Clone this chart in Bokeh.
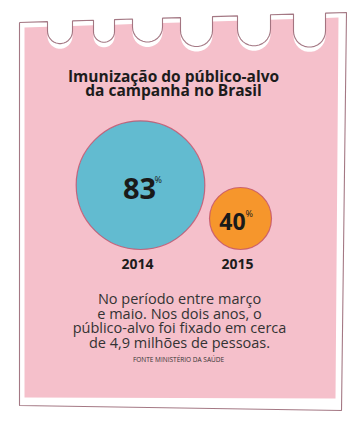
import numpy as np
from bokeh.plotting import figure
from bokeh.models import Range1d
from bokeh.core.properties import value
from bokeh.embed import file_html
from bokeh.resources import INLINE

# ---- data ----
years = ["2014", "2015"]
values = [83, 40]
value_labels = ["83", "40"]
title_lines = ["Imunização do público-alvo", "da campanha no Brasil"]
note_lines = ["No período entre março", "e maio. Nos dois anos, o",
              "público-alvo foi fixado em cerca", "de 4,9 milhões de pessoas."]
source = "FONTE MINISTÉRIO DA SAÚDE"

# ---- layout ----
W, H = 352, 414
p = figure(width=W, height=H, output_backend="svg", toolbar_location=None,
           x_range=Range1d(0, W), y_range=Range1d(H, 0),
           min_border=0)
p.axis.visible = False
p.grid.visible = False
p.outline_line_color = None
p.background_fill_color = "white"
p.border_fill_color = "white"

# paper shape
def top_edge(xl, xr, yl, yr, scallops, dy=0.0):
    def yt(x):
        return yl + (yr - yl) * (x - xl) / (xr - xl) + dy
    xs, ys = [xl], [yt(xl)]
    for (a, b, d) in scallops:
        r = (b - a) / 2.0
        y0 = yt(a)
        xs += [a, a]
        ys += [y0, y0 + d - r]
        t = np.linspace(np.pi, 0, 16)
        cx = (a + b) / 2.0
        xs += list(cx + r * np.cos(t))
        ys += list(y0 + d - r + r * np.sin(t))
        xs += [b]
        ys += [yt(b)]
    xs.append(xr)
    ys.append(yt(xr))
    return xs, ys

scallops = [(47, 72, 22), (93, 114, 22), (132, 162, 23), (180, 212, 29),
            (237, 270, 30), (293, 325, 33)]
tx, ty = top_edge(19, 346, 22, 12, scallops)
ftx, fty = top_edge(24, 338, 25, 15, scallops, dy=2)

fill_x = ftx + [335, 24]
fill_y = fty + [398, 397]
p.patch(fill_x, fill_y, fill_color="#f5c0cb", line_color=None)

out_x = tx + [341, 19, 19]
out_y = ty + [410, 405, 22]
p.line(out_x, out_y, line_color="#94606f", line_width=1.1, line_alpha=0.85)

# title
for i, t in enumerate(title_lines):
    p.text(x=[173], y=[75 + i * 14.5], text=[t], text_font=value("Open Sans"),
           text_font_style="bold", text_font_size="15.5px", text_color="#1c1c1c",
           text_align="center", text_baseline="middle")

# circles: radius proportional to value, bottom-aligned
scale = 0.775
base_y = 249
x0, step = 140, 100
cx = [x0 + i * step for i in range(len(values))]
rad = [v * scale for v in values]
cy = [base_y - r for r in rad]
colors = ["#62bbd0", "#f6962c"]
p.circle(x=cx, y=cy, radius=rad, fill_color=colors, line_color="#c2506a",
         line_width=1.2, line_alpha=0.8)

sizes = ["29px", "23px"]
lab_dx = [-1, -8]
pct_dx = [15, 13]
for i in range(len(values)):
    p.text(x=[cx[i] + lab_dx[i]], y=[cy[i] + 3], text=[value_labels[i]],
           text_font=value("Open Sans"), text_font_style="bold",
           text_font_size=sizes[i], text_color="#1a1a1a",
           text_align="center", text_baseline="middle")
    p.text(x=[cx[i] + lab_dx[i] + pct_dx[i]], y=[cy[i] - 6 + (0 if i == 0 else 1)],
           text=["%"], text_font=value("Open Sans"), text_font_size="9px",
           text_color="#1a1a1a", text_align="left", text_baseline="middle")
    p.text(x=[cx[i] - 3], y=[263], text=[years[i]], text_font=value("Open Sans"),
           text_font_style="bold", text_font_size="14px", text_color="#1c1c1c",
           text_align="center", text_baseline="middle")

# note
for i, t in enumerate(note_lines):
    p.text(x=[179], y=[298 + i * 14.7], text=[t], text_font=value("Open Sans"),
           text_font_size="14.5px", text_color="#333333",
           text_align="center", text_baseline="middle")

p.text(x=[178], y=[359], text=[source], text_font=value("Open Sans"),
       text_font_size="6.5px", text_color="#333333",
       text_align="center", text_baseline="middle")

open("out.html", "w").write(file_html(p, INLINE))
